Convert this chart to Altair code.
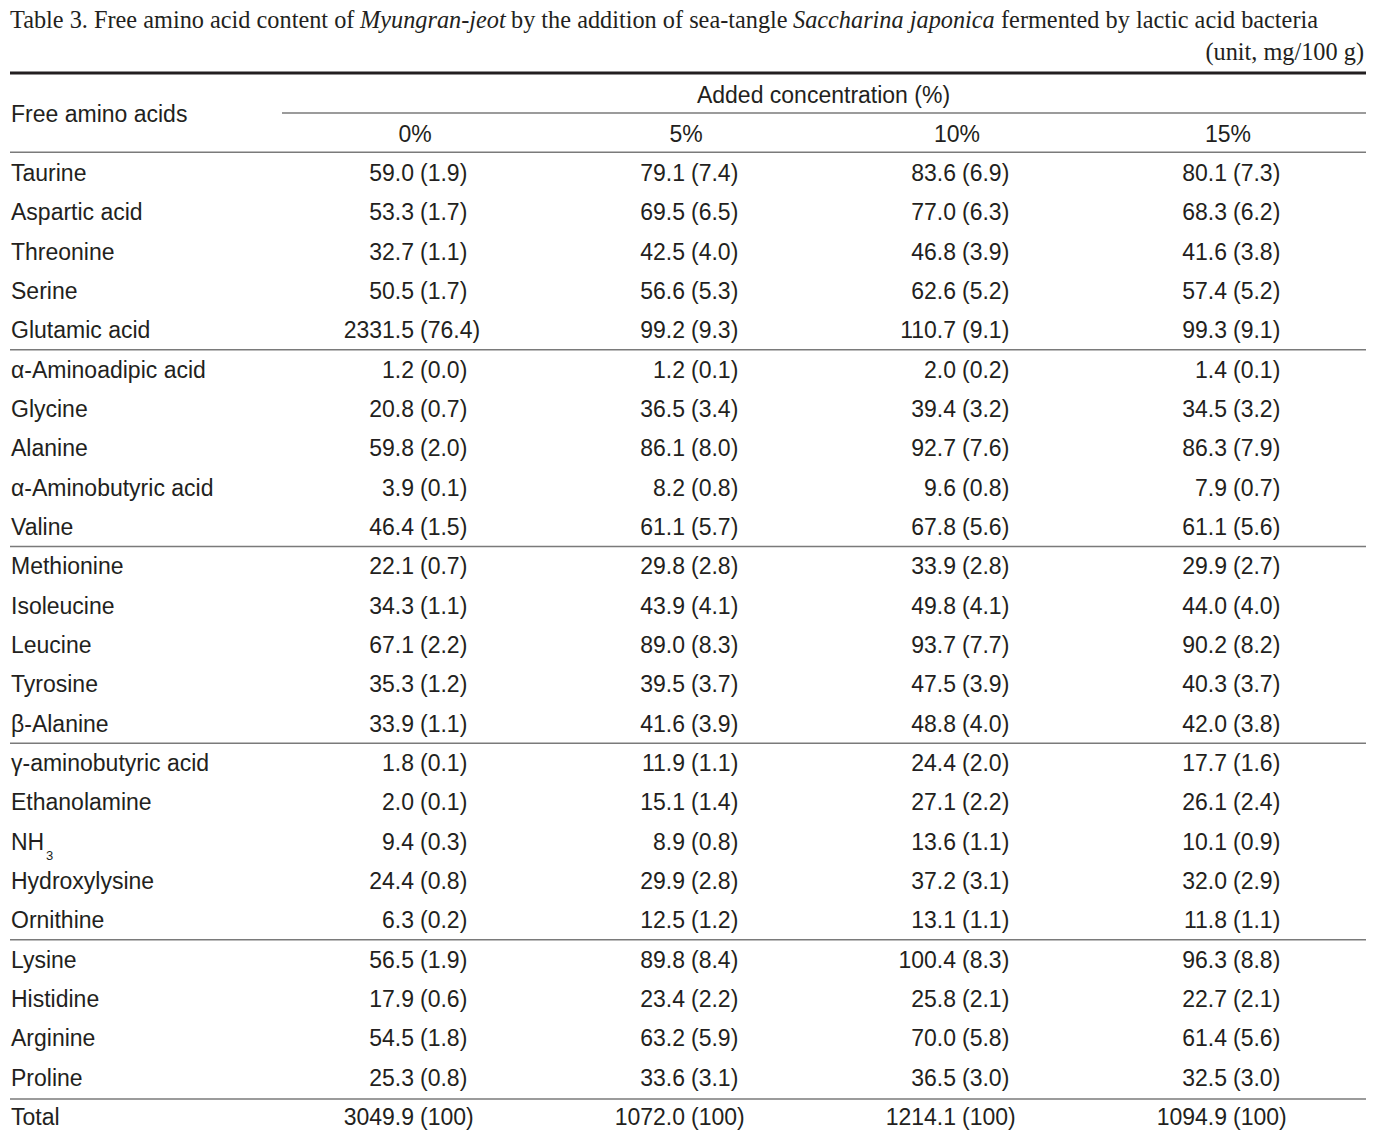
import altair as alt
import pandas as pd

# ---------------- data ----------------
amino_acids = [
    "Taurine", "Aspartic acid", "Threonine", "Serine", "Glutamic acid",
    "α-Aminoadipic acid", "Glycine", "Alanine", "α-Aminobutyric acid", "Valine",
    "Methionine", "Isoleucine", "Leucine", "Tyrosine", "β-Alanine",
    "γ-aminobutyric acid", "Ethanolamine", "NH", "Hydroxylysine", "Ornithine",
    "Lysine", "Histidine", "Arginine", "Proline", "Total",
]
concentrations = ["0%", "5%", "10%", "15%"]

mean_0 = [59.0, 53.3, 32.7, 50.5, 2331.5, 1.2, 20.8, 59.8, 3.9, 46.4, 22.1, 34.3, 67.1,
          35.3, 33.9, 1.8, 2.0, 9.4, 24.4, 6.3, 56.5, 17.9, 54.5, 25.3, 3049.9]
sd_0 = [1.9, 1.7, 1.1, 1.7, 76.4, 0.0, 0.7, 2.0, 0.1, 1.5, 0.7, 1.1, 2.2,
        1.2, 1.1, 0.1, 0.1, 0.3, 0.8, 0.2, 1.9, 0.6, 1.8, 0.8, 100]
mean_5 = [79.1, 69.5, 42.5, 56.6, 99.2, 1.2, 36.5, 86.1, 8.2, 61.1, 29.8, 43.9, 89.0,
          39.5, 41.6, 11.9, 15.1, 8.9, 29.9, 12.5, 89.8, 23.4, 63.2, 33.6, 1072.0]
sd_5 = [7.4, 6.5, 4.0, 5.3, 9.3, 0.1, 3.4, 8.0, 0.8, 5.7, 2.8, 4.1, 8.3,
        3.7, 3.9, 1.1, 1.4, 0.8, 2.8, 1.2, 8.4, 2.2, 5.9, 3.1, 100]
mean_10 = [83.6, 77.0, 46.8, 62.6, 110.7, 2.0, 39.4, 92.7, 9.6, 67.8, 33.9, 49.8, 93.7,
           47.5, 48.8, 24.4, 27.1, 13.6, 37.2, 13.1, 100.4, 25.8, 70.0, 36.5, 1214.1]
sd_10 = [6.9, 6.3, 3.9, 5.2, 9.1, 0.2, 3.2, 7.6, 0.8, 5.6, 2.8, 4.1, 7.7,
         3.9, 4.0, 2.0, 2.2, 1.1, 3.1, 1.1, 8.3, 2.1, 5.8, 3.0, 100]
mean_15 = [80.1, 68.3, 41.6, 57.4, 99.3, 1.4, 34.5, 86.3, 7.9, 61.1, 29.9, 44.0, 90.2,
           40.3, 42.0, 17.7, 26.1, 10.1, 32.0, 11.8, 96.3, 22.7, 61.4, 32.5, 1094.9]
sd_15 = [7.3, 6.2, 3.8, 5.2, 9.1, 0.1, 3.2, 7.9, 0.7, 5.6, 2.7, 4.0, 8.2,
         3.7, 3.8, 1.6, 2.4, 0.9, 2.9, 1.1, 8.8, 2.1, 5.6, 3.0, 100]

group_ends = [4, 9, 14, 19, 23]   # rows after which a thin separator is drawn
subscript_rows = {17: "3"}         # NH3

title_parts = [
    ("Table 3. Free amino acid content of", "normal"),
    ("Myungran-jeot", "italic"),
    ("by the addition of sea-tangle", "normal"),
    ("Saccharina japonica", "italic"),
    ("fermented by lactic acid bacteria", "normal"),
]
unit_text = "(unit, mg/100 g)"
header_left = "Free amino acids"
header_top = "Added concentration (%)"

# ---------------- tables ----------------
means = [mean_0, mean_5, mean_10, mean_15]
sds = [sd_0, sd_5, sd_10, sd_15]
n = len(amino_acids)
recs = []
for c, (m_list, s_list) in enumerate(zip(means, sds)):
    for r in range(n):
        total = amino_acids[r] == "Total"
        recs.append({
            "row": r, "col": c,
            "mean": f"{m_list[r]:.1f}",
            "sd": f"({s_list[r]:.0f})" if total else f"({s_list[r]:.1f})",
        })
cells = pd.DataFrame(recs)
names = pd.DataFrame({"row": list(range(n)), "name": amino_acids})
subs = pd.DataFrame({"row": list(subscript_rows.keys()), "t": list(subscript_rows.values())})
heads = pd.DataFrame({"col": list(range(4)), "label": concentrations})
seps = pd.DataFrame({"y": [g + 0.47 for g in group_ends[:-1]] + [group_ends[-1] + 0.52]})

FONT = "Liberation Sans"
SERIF = "Liberation Serif"
FS = 23
TFS = 24.3
TXT = "#231f20"
GRAY = "#7a7a7a"

yscale = alt.Scale(domain=[0, 24], range=[166, 1110], zero=False, nice=False)
xscale = alt.Scale(domain=[0, 3], range=[409, 1222], zero=False, nice=False)


def Y(field=None, datum=None):
    if datum is not None:
        return alt.Y(datum=datum, type="quantitative", scale=yscale, axis=None)
    return alt.Y(field, type="quantitative", scale=yscale, axis=None)


def X(field=None, datum=None):
    if datum is not None:
        return alt.X(datum=datum, type="quantitative", scale=xscale, axis=None)
    return alt.X(field, type="quantitative", scale=xscale, axis=None)


layers = []

# body text
layers.append(alt.Chart(names).mark_text(align="left", baseline="middle", font=FONT,
                                          fontSize=FS, color=TXT)
              .encode(x=alt.value(3), y=Y("row"), text="name:N"))
layers.append(alt.Chart(subs).mark_text(align="left", baseline="middle", font=FONT,
                                         fontSize=13, color=TXT, dy=13)
              .encode(x=alt.value(38), y=Y("row"), text="t:N"))
layers.append(alt.Chart(cells).mark_text(align="right", baseline="middle", font=FONT,
                                          fontSize=FS, color=TXT, dx=-3)
              .encode(x=X("col"), y=Y("row"), text="mean:N"))
layers.append(alt.Chart(cells).mark_text(align="left", baseline="middle", font=FONT,
                                          fontSize=FS, color=TXT, dx=3)
              .encode(x=X("col"), y=Y("row"), text="sd:N"))

# header text
layers.append(alt.Chart(heads).mark_text(align="center", baseline="middle", font=FONT,
                                          fontSize=FS, color=TXT, dx=-2)
              .encode(x=X("col"), y=Y(datum=-0.99), text="label:N"))
layers.append(alt.Chart(pd.DataFrame({"t": [header_top]})).mark_text(
    align="center", baseline="middle", font=FONT, fontSize=FS, color=TXT)
    .encode(x=X(datum=1.5), y=Y(datum=-1.98), text="t:N"))
layers.append(alt.Chart(pd.DataFrame({"t": [header_left]})).mark_text(
    align="left", baseline="middle", font=FONT, fontSize=FS, color=TXT)
    .encode(x=alt.value(3), y=Y(datum=-1.5), text="t:N"))

# rules
layers.append(alt.Chart(pd.DataFrame({"y": [-2.57, 24.49]})).mark_rule(
    color=TXT, strokeWidth=3)
    .encode(x=alt.value(2), x2=alt.value(1358), y=Y("y")))
layers.append(alt.Chart(pd.DataFrame({"y": [-0.55]})).mark_rule(
    color=GRAY, strokeWidth=1.5)
    .encode(x=alt.value(2), x2=alt.value(1358), y=Y("y")))
layers.append(alt.Chart(pd.DataFrame({"y": [-1.55]})).mark_rule(
    color=GRAY, strokeWidth=1.5)
    .encode(x=alt.value(274), x2=alt.value(1358), y=Y("y")))
layers.append(alt.Chart(seps).mark_rule(color=GRAY, strokeWidth=1.5)
              .encode(x=alt.value(2), x2=alt.value(1358), y=Y("y")))

# title pieces
title_x = [2, 352, 503, 785, 993]
for (txt, style), tx in zip(title_parts, title_x):
    layers.append(alt.Chart(pd.DataFrame({"t": [txt]})).mark_text(
        align="left", baseline="middle", font=SERIF, fontSize=TFS, fontStyle=style, color=TXT)
        .encode(x=alt.value(tx), y=alt.value(13), text="t:N"))
layers.append(alt.Chart(pd.DataFrame({"t": [unit_text]})).mark_text(
    align="right", baseline="middle", font=SERIF, fontSize=TFS, color=TXT)
    .encode(x=alt.value(1356), y=alt.value(45), text="t:N"))

chart = alt.layer(*layers).properties(
    width=1368, height=1124, padding=0,
    autosize=alt.AutoSizeParams(type="none"),
    background="white",
).configure_view(stroke=None)

chart.save("out.html", embed_options={"renderer": "svg", "actions": False})
